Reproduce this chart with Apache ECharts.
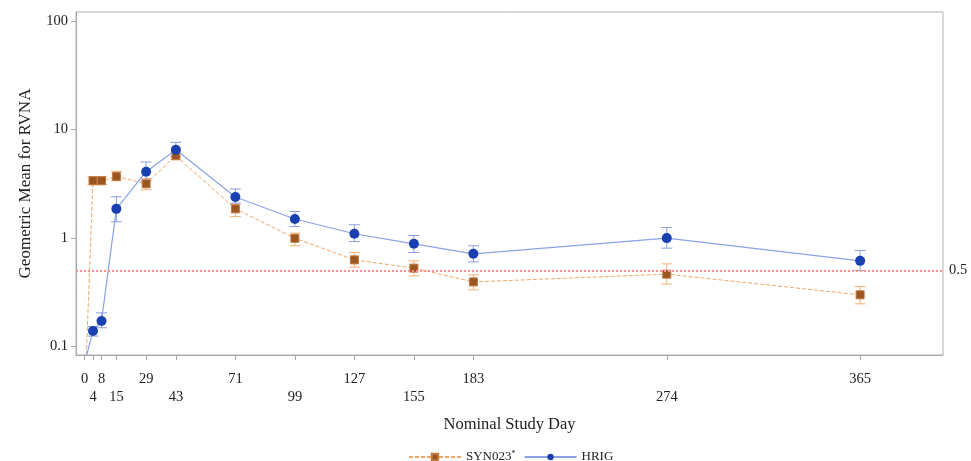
<!DOCTYPE html>
<html>
<head>
<meta charset="utf-8">
<script src="https://cdn.jsdelivr.net/npm/echarts@6/dist/echarts.min.js"></script>
<style>html,body{margin:0;padding:0;background:#fff}#c{width:971px;height:461px}</style>
</head>
<body>
<div id="c"></div>
<script>
// ---- data ----
const days = [0, 4, 8, 15, 29, 43, 71, 99, 127, 155, 183, 274, 365];
const synMean = [0.03, 3.36, 3.36, 3.68, 3.15, 5.72, 1.85, 0.99, 0.626, 0.525, 0.392, 0.462, 0.298];
const synLow  = [null, 3.09, 3.09, 3.36, 2.77, 5.25, 1.57, 0.844, 0.536, 0.446, 0.331, 0.374, 0.246];
const synHigh = [null, 3.68, 3.68, 4.10, 3.53, 6.20, 2.05, 1.105, 0.732, 0.613, 0.455, 0.575, 0.355];
const hrigMean = [0.07, 0.138, 0.171, 1.85, 4.07, 6.5, 2.38, 1.49, 1.09, 0.88, 0.712, 0.994, 0.613];
const hrigLow  = [null, 0.124, 0.148, 1.405, 3.36, 5.6, 2.09, 1.27, 0.924, 0.732, 0.60, 0.803, 0.499];
const hrigHigh = [null, 0.152, 0.203, 2.39, 5.0, 7.59, 2.82, 1.75, 1.32, 1.05, 0.844, 1.245, 0.763];
const xTicks = [0, 4, 8, 15, 29, 43, 71, 99, 127, 155, 183, 274, 365];
const yTicks = [0.1, 1, 10, 100];
const refValue = 0.5;
const seriesNames = ['SYN023*', 'HRIG'];
const xTitle = 'Nominal Study Day';
const yTitle = 'Geometric Mean for RVNA';

const FONT = 'Liberation Serif';
const TXT = '#222';

function pairs(xs, ys) { return xs.map((x, i) => [x, ys[i]]); }
function errData(xs, lo, hi) {
  const out = [];
  xs.forEach((x, i) => { if (lo[i] != null && hi[i] != null) out.push([x, lo[i], hi[i]]); });
  return out;
}
function errSeries(data, color) {
  return {
    type: 'custom',
    data: data,
    encode: { x: 0, y: [1, 2] },
    z: 1,
    silent: true,
    renderItem: function (params, api) {
      const x = api.value(0);
      const p1 = api.coord([x, api.value(1)]);
      const p2 = api.coord([x, api.value(2)]);
      const w = 5.5;
      const st = { stroke: color, lineWidth: 1 };
      return {
        type: 'group',
        children: [
          { type: 'line', shape: { x1: p1[0], y1: p1[1], x2: p2[0], y2: p2[1] }, style: st },
          { type: 'line', shape: { x1: p1[0] - w, y1: p1[1], x2: p1[0] + w, y2: p1[1] }, style: st },
          { type: 'line', shape: { x1: p2[0] - w, y1: p2[1], x2: p2[0] + w, y2: p2[1] }, style: st }
        ]
      };
    }
  };
}

const chart = echarts.init(document.getElementById('c'), null, { renderer: 'canvas' });
chart.setOption({
  animation: false,
  backgroundColor: '#fff',
  grid: { left: 76, right: 28, top: 12, bottom: 106, show: true, borderColor: '#b0b0b0', borderWidth: 1, backgroundColor: '#fff' },
  xAxis: {
    type: 'value', min: -4, max: 404,
    name: xTitle, nameLocation: 'middle', nameGap: 61,
    nameTextStyle: { fontFamily: FONT, fontSize: 16.5, color: TXT },
    axisLine: { show: true, onZero: false, lineStyle: { color: '#a8a8a8' } },
    axisTick: { show: true, length: 5, customValues: xTicks, lineStyle: { color: '#a8a8a8' } },
    axisLabel: {
      customValues: xTicks, margin: 15, fontFamily: FONT, fontSize: 14.5, color: TXT, lineHeight: 18,
      formatter: function (v) { const i = xTicks.indexOf(Math.round(v)); return (i % 2 === 1 ? '\n' : '') + Math.round(v); }
    },
    splitLine: { show: false }
  },
  yAxis: {
    type: 'log', logBase: 10, min: 0.083, max: 121,
    name: yTitle, nameLocation: 'middle', nameGap: 42, nameRotate: 90,
    nameTextStyle: { fontFamily: FONT, fontSize: 17, color: TXT },
    axisLine: { show: true, onZero: false, lineStyle: { color: '#a8a8a8' } },
    axisTick: { show: true, length: 5, customValues: yTicks, lineStyle: { color: '#a8a8a8' } },
    axisLabel: {
      customValues: yTicks, margin: 8, fontFamily: FONT, fontSize: 14.5, color: TXT,
      formatter: function (v) { return String(+(+v).toPrecision(3)); }
    },
    splitLine: { show: false },
    minorTick: { show: false }
  },
  legend: {
    left: 403, top: 445,
    itemWidth: 52, itemHeight: 8, itemGap: 8,
    textStyle: { fontFamily: FONT, fontSize: 13, color: TXT, rich: { s: { fontSize: 8, verticalAlign: 'top', padding: [0, 0, 6, 0], fontFamily: FONT, color: TXT } } },
    formatter: function (n) { return n.replace('*', '{s|*}'); },
    data: seriesNames
  },
  series: [
    errSeries(errData(days, synLow, synHigh), '#f2b27a'),
    errSeries(errData(days, hrigLow, hrigHigh), '#8d9fe0'),
    {
      name: seriesNames[0], type: 'line', data: pairs(days, synMean),
      symbol: 'rect', symbolSize: 8, z: 3,
      itemStyle: { color: '#9a5520', borderColor: '#c07a40', borderWidth: 1 },
      lineStyle: { color: '#eea868', width: 1, type: [4, 2] },
      markLine: {
        silent: true, symbol: ['none', 'none'],
        lineStyle: { color: '#f29494', type: 'dotted', width: 2 },
        label: { position: 'end', formatter: '0.5', distance: 6, fontFamily: FONT, fontSize: 14.5, color: TXT },
        data: [{ yAxis: refValue }]
      }
    },
    {
      name: seriesNames[1], type: 'line', data: pairs(days, hrigMean),
      symbol: 'circle', symbolSize: 10, z: 4,
      itemStyle: { color: '#1a3fb0' },
      lineStyle: { color: '#8aa3e6', width: 1.2 }
    }
  ]
});
</script>
</body>
</html>
